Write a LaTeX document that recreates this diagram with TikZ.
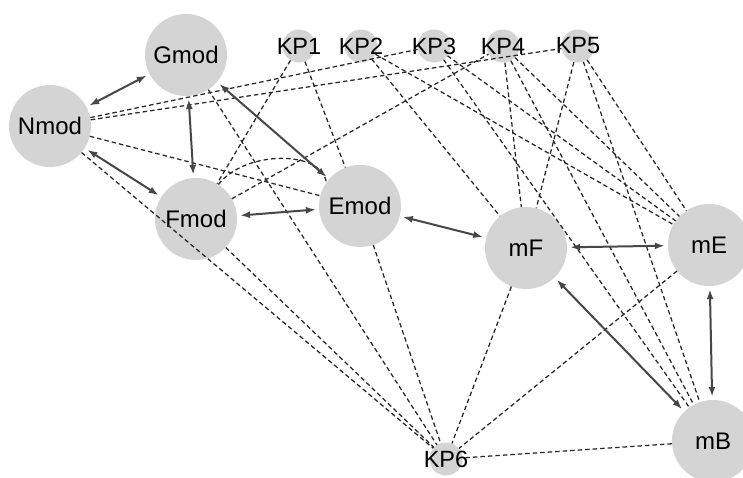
\documentclass[tikz,border=0pt]{standalone}
\usepackage{fontspec}
\setmainfont{Liberation Sans}
\usetikzlibrary{arrows.meta}
\definecolor{nodegray}{HTML}{D4D4D4}
\definecolor{arrowgray}{HTML}{474747}
\definecolor{dashgray}{HTML}{262626}
\begin{document}
\begin{tikzpicture}[x=1pt,y={(0pt,-1pt)},
  big/.style={circle, fill=nodegray, minimum size=82pt, inner sep=0pt, font=\fontsize{24}{24}\selectfont},
  kp/.style={circle, fill=nodegray, minimum size=33pt, inner sep=0pt, font=\fontsize{23.5}{23.5}\selectfont},
  twoway/.style={draw=arrowgray, line width=2pt, {Latex[length=10pt,width=7pt]}-{Latex[length=10pt,width=7pt]}, shorten <=3pt, shorten >=3pt},
  link/.style={draw=dashgray, line width=1.25pt, dash pattern=on 4.5pt off 3pt}]
\fill[white] (0,0) rectangle (743,477);
\useasboundingbox (0,0) rectangle (743,477);
\clip (0,0) rectangle (743,477);
% nodes
\node[big] (gmod) at (186,55) {Gmod};
\node[big] (nmod) at (50,126) {Nmod};
\node[big] (fmod) at (196,219) {Fmod};
\node[big] (emod) at (360,206) {Emod};
\node[big] (mf) at (526,248) {mF};
\node[big] (me) at (709,245) {mE};
\node[big] (mb) at (713,441) {mB};
\node[kp] (kp1) at (299,46) {\makebox[0pt]{KP1}};
\node[kp] (kp2) at (361,46) {\makebox[0pt]{KP2}};
\node[kp] (kp3) at (434,46) {\makebox[0pt]{KP3}};
\node[kp] (kp4) at (503,46) {\makebox[0pt]{KP4}};
\node[kp] (kp5) at (578,46) {\makebox[0pt]{KP5}};
\node[kp] (kp6) at (446,459) {\makebox[0pt]{KP6}};
% dashed links
\draw[link] (nmod) -- (kp3);
\draw[link] (nmod) -- (kp5);
\draw[link] (nmod) -- (emod);
\draw[link] (nmod) -- (kp6);
\draw[link] (gmod) -- (kp6);
\draw[link] (kp1) -- (fmod);
\draw[link] (kp1) -- (emod);
\draw[link] (fmod) -- (kp4);
\draw[link] (fmod.57) .. controls (245,150) and (322,150) .. (emod.145);
\draw[link] (fmod) -- (kp6);
\draw[link] (emod) -- (kp6);
\draw[link] (kp2) -- (mf);
\draw[link] (kp2) -- (me);
\draw[link] (kp3) -- (me);
\draw[link] (kp3) -- (mb);
\draw[link] (kp4) -- (mf);
\draw[link] (kp4) -- (me);
\draw[link] (kp4) -- (mb);
\draw[link] (kp5) -- (mf);
\draw[link] (kp5) -- (me);
\draw[link] (kp5) -- (mb);
\draw[link] (mf) -- (kp6);
\draw[link] (me) -- (kp6);
\draw[link] (mb) -- (kp6);
% solid two-way arrows
\draw[twoway] (nmod) -- (gmod);
\draw[twoway] (gmod) -- (fmod);
\draw[twoway] (gmod) -- (emod);
\draw[twoway] (nmod) -- (fmod);
\draw[twoway] (fmod) -- (emod);
\draw[twoway] (emod) -- (mf);
\draw[twoway] (mf) -- (me);
\draw[twoway] (mf) -- (mb);
\draw[twoway] (me) -- (mb);
\end{tikzpicture}
\end{document}
